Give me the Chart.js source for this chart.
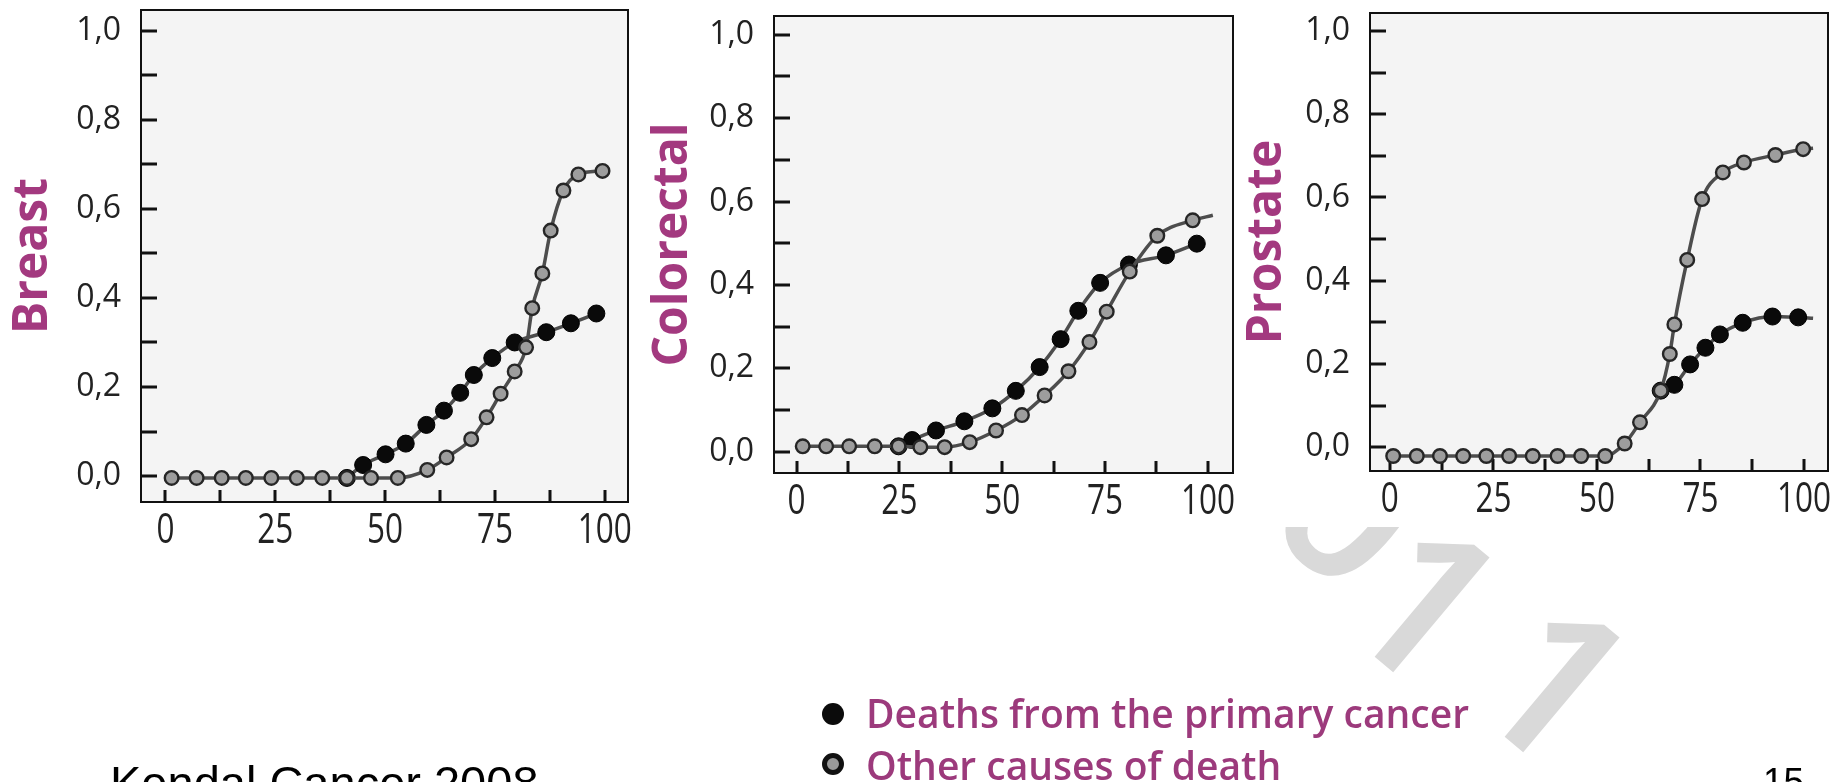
<!DOCTYPE html>
<html>
<head>
<meta charset="utf-8">
<script src="https://cdn.jsdelivr.net/npm/chart.js@4.4.1/dist/chart.umd.min.js"></script>
<style>
  html, body { margin: 0; padding: 0; background: #fff; }
  body { width: 1847px; height: 782px; position: relative; overflow: hidden; }
  canvas { position: absolute; }
  #watermark { left: 0; top: 0; z-index: 0; }
  .panel { z-index: 1; }
  .key { position: absolute; left: 866px; font: 600 39px/40px 'Open Sans', sans-serif; color: #9c3a7c; white-space: nowrap; z-index: 2; }
  .dot { position: absolute; left: 822px; width: 22px; height: 22px; border-radius: 50%; box-sizing: border-box; z-index: 2; }
  .dot.primary { background: #0b0b0b; }
  .dot.other { background: #9a9a9a; border: 5px solid #111; }
  .foot { position: absolute; font-family: 'Liberation Sans', Arial, sans-serif; color: #000; white-space: nowrap; z-index: 2; }
</style>
</head>
<body>
<canvas id="watermark" width="1847" height="782"></canvas>
<span class="dot primary" style="top:703px"></span>
<div class="key" id="key0" style="top:693px"></div>
<span class="dot other" style="top:753px"></span>
<div class="key" id="key1" style="top:745px"></div>
<div class="foot" id="source" style="left:110px; top:759px; font-size:47px; line-height:47px;"></div>
<div class="foot" id="page" style="left:1763px; top:763px; font-size:37px; line-height:37px;"></div>
<script>
// ---- axis ticks ----
const xTickValues = [0, 12.5, 25, 37.5, 50, 62.5, 75, 87.5, 100];
const xTickLabels = ['0', '', '25', '', '50', '', '75', '', '100'];
const yTickValues = [0, 0.1, 0.2, 0.3, 0.4, 0.5, 0.6, 0.7, 0.8, 0.9, 1.0];
const yTickLabels = ['0,0', '', '0,2', '', '0,4', '', '0,6', '', '0,8', '', '1,0'];

const panelTitles = ['Breast', 'Colorectal', 'Prostate'];
const legendLabels = ['Deaths from the primary cancer', 'Other causes of death'];
const sourceText = 'Kendal Cancer 2008';
const pageNumber = '15';
const watermarkText = '2011';

// ---- Breast ----
const breastPrimaryX = [41.3, 45.0, 50.1, 54.7, 59.4, 63.4, 67.1, 70.2, 74.4, 79.5, 86.7, 92.3, 98.1];
const breastPrimaryY = [-0.004, 0.025, 0.049, 0.073, 0.115, 0.147, 0.187, 0.227, 0.265, 0.300, 0.323, 0.343, 0.365];
const breastOtherX = [1.4, 7.1, 12.8, 18.3, 24.1, 29.9, 35.7, 41.3, 46.8, 52.9, 59.6, 64.0, 69.6, 73.1, 76.3, 79.5, 82.1, 83.5, 85.8, 87.7, 90.6, 94.0, 99.5];
const breastOtherY = [-0.004, -0.004, -0.004, -0.004, -0.004, -0.004, -0.004, -0.004, -0.004, -0.004, 0.014, 0.042, 0.083, 0.132, 0.185, 0.235, 0.289, 0.377, 0.455, 0.551, 0.641, 0.677, 0.685];

// ---- Colorectal ----
const colorectalPrimaryX = [24.8, 28.1, 33.9, 40.8, 47.6, 53.3, 59.1, 64.2, 68.5, 73.8, 80.8, 89.8, 97.3];
const colorectalPrimaryY = [0.013, 0.028, 0.051, 0.073, 0.104, 0.146, 0.203, 0.270, 0.338, 0.405, 0.449, 0.471, 0.499];
const colorectalOtherX = [1.5, 7.2, 12.8, 19.0, 24.8, 30.1, 36.0, 42.1, 48.5, 54.8, 60.3, 66.1, 71.2, 75.4, 81.0, 87.7, 96.3];
const colorectalOtherY = [0.013, 0.013, 0.013, 0.013, 0.013, 0.011, 0.011, 0.023, 0.051, 0.088, 0.135, 0.193, 0.263, 0.336, 0.432, 0.518, 0.555];
const colorectalOtherTail = [101.2, 0.567];

// ---- Prostate ----
const prostatePrimaryX = [65.4, 68.7, 72.5, 76.2, 79.7, 85.2, 92.4, 98.6];
const prostatePrimaryY = [0.136, 0.150, 0.199, 0.239, 0.271, 0.299, 0.314, 0.312];
const prostatePrimaryTail = [102.2, 0.310];
const prostateOtherX = [0.8, 6.5, 12.1, 17.7, 23.3, 28.8, 34.5, 40.5, 46.2, 52.0, 56.7, 60.4, 65.4, 67.6, 68.7, 71.8, 75.4, 80.4, 85.5, 93.1, 99.8];
const prostateOtherY = [-0.021, -0.021, -0.021, -0.021, -0.021, -0.021, -0.021, -0.021, -0.021, -0.021, 0.009, 0.060, 0.136, 0.224, 0.295, 0.450, 0.596, 0.660, 0.684, 0.702, 0.716];
const prostateOtherTail = [102.2, 0.718];

// ---- page layout of the three plot boxes ----
const panelBoxes = [
  { canvasLeft: 0,    left: 141,  top: 10, right: 628,  bottom: 502, xMin: -5.57, xMax: 105.3, yMin: -0.058, yMax: 1.046, titleX: 33.7 },
  { canvasLeft: 640,  left: 774,  top: 16, right: 1233, bottom: 473, xMin: -5.48, xMax: 106.1, yMin: -0.051, yMax: 1.045, titleX: 673.4 },
  { canvasLeft: 1240, left: 1370, top: 13, right: 1828, bottom: 471, xMin: -4.8,  xMax: 105.8, yMin: -0.057, yMax: 1.043, titleX: 1267.4 }
];

const TOP_OFF = 50, RIGHT_PAD = 60, CANVAS_H = 620;
const TITLE_SIZE = 48;
const LINE_COLOR = '#4d4d4d';
const TITLE_COLOR = '#a3397f';
const AXIS_TEXT = '#222';

// frame, background, inward tick marks and the narrow x labels of each plot box
const panelFrame = {
  id: 'panelFrame',
  beforeDraw(chart) {
    const { ctx, chartArea: a } = chart;
    ctx.save();
    ctx.fillStyle = '#f4f4f4';
    ctx.fillRect(a.left, a.top, a.right - a.left, a.bottom - a.top);
    ctx.restore();
  },
  beforeDatasetsDraw(chart) {
    const { ctx, chartArea: a, scales: { x, y } } = chart;
    ctx.save();
    ctx.strokeStyle = '#111';
    ctx.lineWidth = 2;
    ctx.strokeRect(a.left, a.top, a.right - a.left, a.bottom - a.top);
    ctx.lineWidth = 3;
    ctx.beginPath();
    y.ticks.forEach(t => {
      const py = Math.round(y.getPixelForValue(t.value));
      ctx.moveTo(a.left, py);
      ctx.lineTo(a.left + 16, py);
    });
    x.ticks.forEach(t => {
      const px = Math.round(x.getPixelForValue(t.value));
      ctx.moveTo(px, a.bottom);
      ctx.lineTo(px, a.bottom - 12);
    });
    ctx.stroke();
    ctx.restore();
  },
  afterDraw(chart) {
    // x tick labels set in a condensed face: 42px glyphs squeezed horizontally
    const { ctx, chartArea: a, scales: { x } } = chart;
    ctx.save();
    ctx.font = "42px 'Open Sans', sans-serif";
    ctx.fillStyle = AXIS_TEXT;
    ctx.textAlign = 'center';
    ctx.textBaseline = 'alphabetic';
    x.ticks.forEach((t, k) => {
      const label = xTickLabels[k];
      if (!label) return;
      ctx.save();
      ctx.translate(x.getPixelForValue(t.value), a.bottom + 41);
      ctx.scale(0.75, 1);
      ctx.fillText(label, 0, 0);
      ctx.restore();
    });
    ctx.restore();
  }
};

function toPoints(xs, ys, tail) {
  const pts = xs.map((x, k) => ({ x: x, y: ys[k] }));
  if (tail) pts.push({ x: tail[0], y: tail[1] });
  return pts;
}

function otherSeries(xs, ys, tail) {
  return {
    label: legendLabels[1],
    data: toPoints(xs, ys, tail),
    markers: xs.length,
    borderColor: LINE_COLOR,
    borderWidth: 3.5,
    cubicInterpolationMode: 'monotone',
    fill: false,
    clip: false,
    pointRadius: ctx => ctx.dataIndex < ctx.dataset.markers ? 6.8 : 0,
    pointBackgroundColor: '#9d9d9d',
    pointBorderColor: '#262626',
    pointBorderWidth: 2.4
  };
}

function primarySeries(xs, ys, tail) {
  return {
    label: legendLabels[0],
    data: toPoints(xs, ys, tail),
    markers: xs.length,
    borderColor: LINE_COLOR,
    borderWidth: 3.5,
    cubicInterpolationMode: 'monotone',
    fill: false,
    clip: false,
    pointRadius: ctx => ctx.dataIndex < ctx.dataset.markers ? 8.5 : 0,
    pointBackgroundColor: '#0a0a0a',
    pointBorderColor: '#000',
    pointBorderWidth: 1
  };
}

function makePanel(i, datasets) {
  const p = panelBoxes[i];
  const canvas = document.createElement('canvas');
  canvas.className = 'panel';
  canvas.width = p.right - p.canvasLeft + RIGHT_PAD;
  canvas.height = CANVAS_H;
  canvas.style.left = p.canvasLeft + 'px';
  canvas.style.top = (-TOP_OFF) + 'px';
  document.body.appendChild(canvas);

  new Chart(canvas, {
    type: 'line',
    data: { datasets: datasets },
    options: {
      responsive: false,
      animation: false,
      devicePixelRatio: 1,
      events: [],
      layout: { padding: { left: 0, right: RIGHT_PAD, top: p.top + TOP_OFF, bottom: 0 } },
      plugins: { legend: { display: false }, tooltip: { enabled: false } },
      scales: {
        x: {
          type: 'linear',
          min: p.xMin,
          max: p.xMax,
          grid: { display: false, drawTicks: false },
          border: { display: false },
          afterBuildTicks: s => { s.ticks = xTickValues.map(v => ({ value: v })); },
          afterFit: s => { s.height = CANVAS_H - (p.bottom + TOP_OFF); },
          ticks: { display: false, autoSkip: false, callback: (v, idx) => xTickLabels[idx] }
        },
        y: {
          type: 'linear',
          min: p.yMin,
          max: p.yMax,
          grid: { display: false, drawTicks: false },
          border: { display: false },
          afterBuildTicks: s => { s.ticks = yTickValues.map(v => ({ value: v })); },
          afterFit: s => { s.width = p.left - p.canvasLeft; },
          ticks: {
            autoSkip: false,
            padding: 20,
            color: AXIS_TEXT,
            font: { family: "'Open Sans', sans-serif", size: 32 },
            callback: (v, idx) => yTickLabels[idx]
          },
          title: {
            display: true,
            text: panelTitles[i],
            color: TITLE_COLOR,
            font: { family: "'Open Sans', sans-serif", size: TITLE_SIZE, weight: 'bold', lineHeight: 1 },
            padding: { top: p.titleX - p.canvasLeft - TITLE_SIZE / 2, bottom: 0 }
          }
        }
      }
    },
    plugins: [panelFrame]
  });
}

// gray series first so its markers sit on top of the black ones
makePanel(0, [otherSeries(breastOtherX, breastOtherY), primarySeries(breastPrimaryX, breastPrimaryY)]);
makePanel(1, [otherSeries(colorectalOtherX, colorectalOtherY, colorectalOtherTail), primarySeries(colorectalPrimaryX, colorectalPrimaryY)]);
makePanel(2, [otherSeries(prostateOtherX, prostateOtherY, prostateOtherTail), primarySeries(prostatePrimaryX, prostatePrimaryY, prostatePrimaryTail)]);

// legend, footer
document.getElementById('key0').textContent = legendLabels[0];
document.getElementById('key1').textContent = legendLabels[1];
document.getElementById('source').textContent = sourceText;
document.getElementById('page').textContent = pageNumber;

// faint slanted watermark behind the figure, visible only below the plots
(function () {
  const c = document.getElementById('watermark').getContext('2d');
  const size = 210, ang = 40 * Math.PI / 180;
  const b = [Math.cos(ang), Math.sin(ang)];      // along the baseline
  const u = [Math.sin(ang), -Math.cos(ang)];     // towards the glyph tops
  c.save();
  c.beginPath();
  c.rect(1250, 527, 597, 255);
  c.clip();
  c.font = "600 " + size + "px 'Open Sans', sans-serif";
  c.fillStyle = '#d9d9d9';
  c.textAlign = 'left';
  c.textBaseline = 'alphabetic';
  function glyph(ch, ox, oy) {
    c.save();
    c.translate(ox, oy);
    c.rotate(ang);
    c.fillText(ch, 0, 0);
    c.restore();
  }
  // the two ones, placed by the foot of their stems
  const stem = 0.35 * size;
  const feet = [[1388, 668], [1518, 748]];
  feet.forEach(f => glyph(watermarkText[3], f[0] - stem * b[0], f[1] - stem * b[1]));
  // the zero, placed by its centre
  const zc = [1352, 505];
  glyph(watermarkText[1], zc[0] - 0.286 * size * b[0] - 0.357 * size * u[0], zc[1] - 0.286 * size * b[1] - 0.357 * size * u[1]);
  c.restore();
})();
</script>
</body>
</html>
